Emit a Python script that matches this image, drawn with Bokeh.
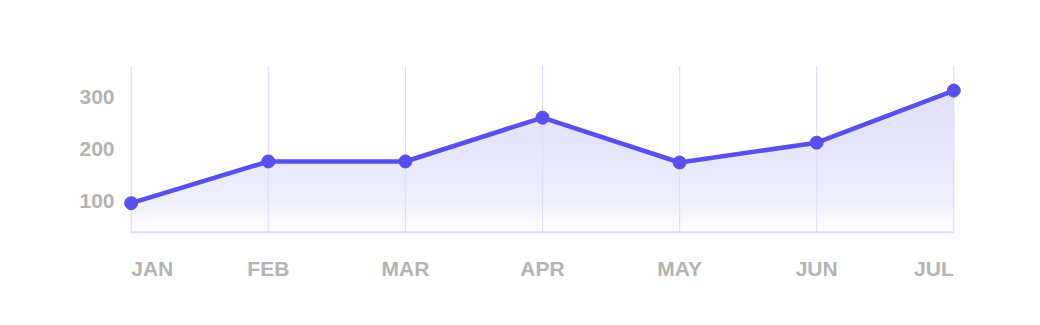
import numpy as np
from bokeh.plotting import figure
from bokeh.models import FixedTicker, Range1d
from bokeh.core.properties import value
from bokeh.embed import file_html
from bokeh.resources import INLINE

# ---- data ----
months = ["JAN", "FEB", "MAR", "APR", "MAY", "JUN", "JUL"]
sales = [96, 176, 176, 260, 174, 212, 312]
y_ticks = [100, 200, 300]
y_low, y_high = 40, 360

LINE = "#5850ec"
LINE_RGB = (88, 80, 236)
GRID = "#dfdef9"
TEXT = "#b4b4b4"
FONT = "Liberation Sans"

xs = list(range(len(months)))
x_pad = 0.1
y_extra = 100   # room below the chart for the month labels

p = figure(width=1040, height=325, output_backend="svg", toolbar_location=None,
           x_range=Range1d(xs[0] - x_pad, xs[-1] + x_pad),
           y_range=Range1d(y_low - y_extra, y_high),
           min_border_left=117, min_border_right=73,
           min_border_top=65, min_border_bottom=41)
p.outline_line_color = None
p.background_fill_color = "white"
p.border_fill_color = "white"
p.xgrid.visible = False
p.ygrid.visible = False
p.xaxis.visible = False

# gradient area: vertical gradient image, masked with white above the line
top = max(sales)
rows = 256
v = y_low + (np.arange(rows) + 0.5) / rows * (top - y_low)
a = np.interp(v, [y_low, y_low + 0.22 * (top - y_low), y_low + 0.6 * (top - y_low), top],
              [0.0, 0.09, 0.15, 0.175])
img = np.empty((rows, 2), dtype=np.uint32)
view = img.view(dtype=np.uint8).reshape((rows, 2, 4))
for k in range(3):
    view[:, :, k] = np.round(255 * (1 - a) + LINE_RGB[k] * a)[:, None].astype(np.uint8)
view[:, :, 3] = 255
p.image_rgba(image=[img], x=xs[0], y=y_low, dw=xs[-1] - xs[0], dh=top - y_low)
p.varea(x=xs, y1=sales, y2=[y_high] * len(xs), fill_color="white")

# vertical grid lines and bottom border
p.segment(x0=xs, y0=[y_low] * len(xs), x1=xs, y1=[y_high] * len(xs),
          line_color=GRID, line_width=1.2)
p.segment(x0=[xs[0]], y0=[y_low], x1=[xs[-1]], y1=[y_low],
          line_color=GRID, line_width=2)

# series
p.line(xs, sales, line_color=LINE, line_width=4.6, line_join="round")
p.scatter(xs, sales, size=13, fill_color=LINE, line_color=LINE)

# y axis
p.yaxis.ticker = FixedTicker(ticks=y_ticks)
p.yaxis.axis_line_color = None
p.yaxis.major_tick_line_color = None
p.yaxis.minor_tick_line_color = None
p.yaxis.major_tick_out = 0
p.yaxis.major_tick_in = 0
p.yaxis.major_label_standoff = 3
p.yaxis.major_label_text_font = FONT
p.yaxis.major_label_text_font_style = "bold"
p.yaxis.major_label_text_font_size = "21px"
p.yaxis.major_label_text_color = TEXT

# x (month) labels
aligns = ["left"] + ["center"] * (len(months) - 2) + ["right"]
p.text(x=xs, y=[y_low] * len(xs), text=months, text_align=aligns,
       text_baseline="middle", y_offset=36,
       text_font=value(FONT), text_font_style="bold",
       text_font_size="21px", text_color=TEXT)

open("out.html", "w").write(file_html(p, INLINE))
